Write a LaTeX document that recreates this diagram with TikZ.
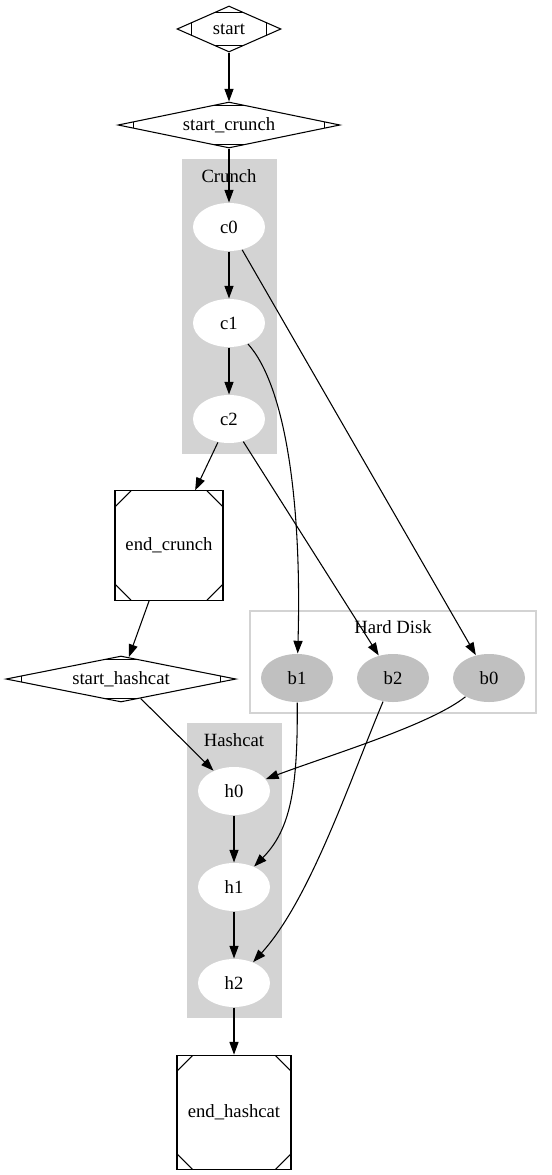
\documentclass[tikz,border=0pt]{standalone}
\usepackage{fontspec}
\setmainfont{Liberation Serif}
\usetikzlibrary{arrows.meta,shapes.geometric,calc}

\definecolor{clustergray}{HTML}{D3D3D3}
\definecolor{diskgray}{HTML}{C0C0C0}

\tikzset{
  stepnode/.style={ellipse,fill=white,minimum width=54pt,minimum height=36pt,inner sep=0pt},
  disknode/.style={stepnode,fill=diskgray},
  mdiam/.style={diamond,draw,inner sep=0pt,
    path picture={
      \draw let \p1=($(path picture bounding box.north east)-(path picture bounding box.center)$),
                \n1={12/veclen(\x1,\y1)} in
        ($(path picture bounding box.north)+({-\n1*\x1},{-\n1*\y1})$) -- ++({2*\n1*\x1},0)
        ($(path picture bounding box.south)+({-\n1*\x1},{\n1*\y1})$) -- ++({2*\n1*\x1},0)
        ($(path picture bounding box.west)+({\n1*\x1},{-\n1*\y1})$) -- ++(0,{2*\n1*\y1})
        ($(path picture bounding box.east)+({-\n1*\x1},{-\n1*\y1})$) -- ++(0,{2*\n1*\y1});
    }},
  msq/.style={rectangle,draw,inner sep=0pt,
    path picture={
      \draw ($(path picture bounding box.north west)+(0,-12pt)$) -- ++(12pt,12pt)
            ($(path picture bounding box.north east)+(-12pt,0)$) -- ++(12pt,-12pt)
            ($(path picture bounding box.south west)+(0,12pt)$) -- ++(12pt,-12pt)
            ($(path picture bounding box.south east)+(-12pt,0)$) -- ++(12pt,12pt);
    }},
  edge/.style={-{Triangle[length=9.5pt,width=6.8pt]}},
}

\begin{document}
\begin{tikzpicture}[x=0.75pt,y=-0.75pt,font=\fontsize{14}{16}\selectfont,line width=0.8pt]
  \useasboundingbox (0,0) rectangle (552,1175);
  % clusters
  \fill[clustergray] (182,159) rectangle (277,454);
  \node (crunchlbl) at (229,176) {Crunch};
  \fill[clustergray] (187,723) rectangle (282,1018);
  \node (hashlbl) at (234,740) {Hashcat};
  \draw[clustergray,line width=1pt] (250,611) rectangle (536,713);
  \node (disklbl) at (393,627) {Hard Disk};
  % nodes
  \node[mdiam,minimum width=78pt,minimum height=34.5pt,aspect=2.3] (start) at (229,29) {start};
  \node[mdiam,minimum width=166.5pt,minimum height=34.5pt,aspect=4.8] (startc) at (229,125) {start\_crunch};
  \node[stepnode] (c0) at (229,227) {c0};
  \node[stepnode] (c1) at (229,323) {c1};
  \node[stepnode] (c2) at (229,419) {c2};
  \node[msq,minimum width=81pt,minimum height=82pt] (endc) at (169,545.5) {end\_crunch};
  \node[mdiam,minimum width=172.5pt,minimum height=34.5pt,aspect=5] (starth) at (121,679) {start\_hashcat};
  \node[disknode] (b1) at (297,678) {b1};
  \node[disknode] (b2) at (393,678) {b2};
  \node[disknode] (b0) at (489,678) {b0};
  \node[stepnode] (h0) at (234,791) {h0};
  \node[stepnode] (h1) at (234,887) {h1};
  \node[stepnode] (h2) at (234,983) {h2};
  \node[msq,minimum width=85.5pt,minimum height=86pt] (endh) at (234,1112.5) {end\_hashcat};
  % edges
  \draw[edge] (start) -- (startc);
  \draw[edge] (startc) -- (c0);
  \draw[edge] (c0) -- (c1);
  \draw[edge] (c1) -- (c2);
  \draw[edge] (c2) -- (endc);
  \draw[edge] (c0) -- (b0);
  \draw[edge] (c2) -- (b2);
  \draw[edge] (c1) .. controls (285,385) and (302,500) .. (b1);
  \draw[edge] (endc) -- (starth);
  \draw[edge] (starth) -- (h0);
  \draw[edge] (b0) .. controls (430,725) and (330,755) .. (h0);
  \draw[edge] (b1) .. controls (298,790) and (290,830) .. (h1);
  \draw[edge] (b2) .. controls (350,780) and (310,900) .. (h2);
  \draw[edge] (h0) -- (h1);
  \draw[edge] (h1) -- (h2);
  \draw[edge] (h2) -- (endh);
\end{tikzpicture}
\end{document}
